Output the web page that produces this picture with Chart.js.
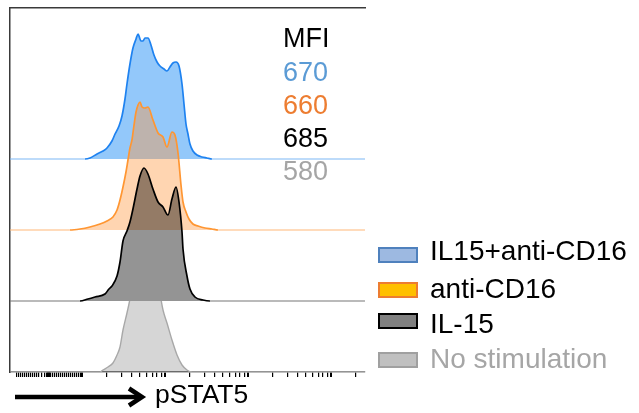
<!DOCTYPE html>
<html>
<head>
<meta charset="utf-8">
<script src="https://cdn.jsdelivr.net/npm/chart.js@4.4.1/dist/chart.umd.min.js"></script>
<style>
html,body{margin:0;padding:0;background:#fff;}
#wrap{position:relative;width:639px;height:413px;overflow:hidden;font-family:"Liberation Sans",Arial,Helvetica,sans-serif;}
#c{position:absolute;left:0;top:0;}
.t{position:absolute;white-space:nowrap;line-height:1;}
.box{position:absolute;box-sizing:border-box;border:2px solid;}
</style>
</head>
<body>
<div id="wrap"><canvas id="c" width="639" height="413"></canvas></div>
<script>
// ---------------- data ----------------
const seriesNames = ['IL15+anti-CD16', 'anti-CD16', 'IL-15', 'No stimulation'];
const mfiHeader = 'MFI';
const mfiValues = [670, 660, 685, 580];
const axisTitle = 'pSTAT5';

// histograms: [log10 pSTAT5 intensity, events]
const histIL15AntiCD16 = [
  [2.036,0],[2.096,1],[2.181,5],[2.253,8],[2.301,11],[2.361,18],[2.398,25],[2.446,33],[2.482,43],
  [2.518,60],[2.542,75],[2.578,95],[2.614,111],[2.651,120],[2.675,125],[2.711,118],[2.735,118],
  [2.759,121],[2.795,121],[2.831,114],[2.867,104],[2.904,97],[2.940,93],[2.988,90],[3.024,88],
  [3.060,92],[3.096,96],[3.133,97],[3.169,93],[3.205,75],[3.229,55],[3.253,35],[3.277,25],
  [3.301,15],[3.337,8],[3.386,4],[3.446,2],[3.506,1],[3.566,0]
];
const histAntiCD16 = [
  [1.855,0],[1.976,1],[2.096,3],[2.217,6],[2.301,9],[2.373,13],[2.422,20],[2.458,30],[2.494,43],
  [2.530,58],[2.554,70],[2.578,82],[2.602,90],[2.627,105],[2.651,118],[2.675,125],[2.699,128],
  [2.723,123],[2.759,122],[2.795,123],[2.855,110],[2.916,97],[2.976,93],[3.024,83],[3.084,98],
  [3.120,95],[3.157,77],[3.193,45],[3.217,28],[3.253,18],[3.289,11],[3.337,6],[3.398,4],
  [3.482,2],[3.566,1],[3.639,0]
];
const histIL15 = [
  [1.976,0],[2.072,2],[2.157,4],[2.277,7],[2.325,12],[2.361,15],[2.422,25],[2.458,39],[2.494,60],
  [2.542,70],[2.578,79],[2.614,92],[2.663,112],[2.699,125],[2.747,133],[2.795,127],[2.855,112],
  [2.916,99],[2.976,94],[3.036,86],[3.084,102],[3.133,114],[3.169,99],[3.205,69],[3.217,52],
  [3.265,25],[3.301,12],[3.361,4],[3.458,1],[3.542,0]
];
const histNoStim = [
  [2.217,0],[2.253,2],[2.313,5],[2.373,9],[2.422,17],[2.458,25],[2.494,42],[2.542,59],[2.566,68],
  [2.614,88],[2.663,104],[2.711,115],[2.759,120],[2.807,118],[2.855,108],[2.904,92],[2.940,78],
  [2.976,62],[3.024,49],[3.084,32],[3.145,17],[3.205,7],[3.265,2],[3.325,0]
];

// axis tick positions (log10 units); region below 2 is the biexponential linear zone
const majorTicks = [2, 3, 4, 5];
const linearZoneTicks = [1.217,1.241,1.265,1.289,1.313,1.337,1.361,1.386,1.410,1.434,1.458,1.482,
  1.518,1.554,1.578,1.584,1.590,1.596,1.602,1.608,1.614,1.627,1.651,1.675,1.699,1.723,1.747,1.771,
  1.795,1.819,1.843,1.867,1.892,1.916,1.940,1.964,1.988];

// ---------------- styling ----------------
const XMIN = 1.1325, XMAX = 5.41;
const LANE = 71;      // stagger offset per histogram
const YMAX = 364;
const lineColors = ['#1E82F0', '#FF9632', '#000000', '#A8A8A8'];
const baseColors = ['#7DB7F5', '#FFB878', '#777777', '#A8A8A8'];
const fillColors = ['rgba(40,145,245,0.5)', 'rgba(255,150,60,0.4)', 'rgba(0,0,0,0.42)', 'rgba(0,0,0,0.16)'];
const lineWidths = [1.7, 1.7, 1.7, 1.4];
const mfiColors = ['#5B9BD5', '#ED7D31', '#000000', '#A5A5A5'];
const legendFill = ['#9DB9E1', '#FFC000', '#808080', '#C0C0C0'];
const legendBorder = ['#4F81BD', '#ED7D31', '#000000', '#A0A0A0'];
const legendText = ['#000', '#000', '#000', '#A6A6A6'];

const hists = [histIL15AntiCD16, histAntiCD16, histIL15, histNoStim];
const lanes = [3, 2, 1, 0];

const minorTicks = [];
for (let n = 2; n <= 5; n++) for (let k = 2; k <= 9; k++) {
  const v = n + Math.log10(k);
  if (v < XMAX) minorTicks.push(v);
}
const allTicks = [...linearZoneTicks, ...majorTicks, ...minorTicks].sort((a, b) => a - b);

// clip plugin (keeps the bottom histogram inside its own lane)
const laneClip = {
  id: 'laneClip',
  beforeDatasetDraw(chart, args) {
    const ds = chart.data.datasets[args.index];
    if (ds.clipTop == null) return;
    const a = chart.chartArea;
    const y = chart.scales.y.getPixelForValue(ds.clipTop);
    chart.ctx.save();
    chart.ctx.beginPath();
    chart.ctx.rect(a.left, y, a.right - a.left, a.bottom - y + 4);
    chart.ctx.clip();
  },
  afterDatasetDraw(chart, args) {
    const ds = chart.data.datasets[args.index];
    if (ds.clipTop == null) return;
    chart.ctx.restore();
  }
};
Chart.register(laneClip);
const fillerPlugin = Chart.registry.getPlugin('filler');
if (fillerPlugin) { Chart.unregister(fillerPlugin); Chart.register(fillerPlugin); }

const datasets = hists.map((h, i) => {
  const off = lanes[i] * LANE;
  const pts = [[XMIN, 0], ...h, [XMAX, 0]].map(p => ({ x: p[0], y: p[1] + off }));
  return {
    label: seriesNames[i],
    data: pts,
    borderColor: lineColors[i],
    backgroundColor: fillColors[i],
    borderWidth: lineWidths[i],
    segment: {
      borderColor: c => (c.p0.parsed.y === off && c.p1.parsed.y === off) ? baseColors[i] : lineColors[i],
      borderWidth: c => (c.p0.parsed.y === off && c.p1.parsed.y === off) ? 1.2 : lineWidths[i]
    },
    fill: { value: off },
    pointRadius: 0,
    cubicInterpolationMode: 'monotone',
    order: lanes[i],
    clipTop: i === 3 ? LANE : undefined
  };
});

new Chart(document.getElementById('c'), {
  type: 'line',
  data: { datasets },
  options: {
    responsive: false,
    animation: false,
    devicePixelRatio: 1,
    layout: { padding: { left: 10, top: 8, right: 274, bottom: 36 } },
    plugins: { legend: { display: false }, tooltip: { enabled: false } },
    scales: {
      x: {
        type: 'linear', position: 'bottom', min: XMIN, max: XMAX,
        afterBuildTicks: s => { s.ticks = allTicks.map(v => ({ value: v, major: majorTicks.includes(v) })); },
        ticks: { display: false },
        grid: {
          drawOnChartArea: false, drawTicks: true, tickLength: 5,
          color: '#000', tickColor: '#000',
          lineWidth: c => (c.tick && c.tick.major ? 2 : 1.2)
        },
        border: { display: true, color: '#808080', width: 1.5 }
      },
      x2: {
        type: 'linear', position: 'top', min: XMIN, max: XMAX,
        ticks: { display: false },
        grid: { display: false, drawTicks: false },
        border: { display: true, color: '#3a3a3a', width: 1.5 }
      },
      y: {
        type: 'linear', min: 0, max: YMAX,
        ticks: { display: false },
        grid: { display: false, drawTicks: false },
        border: { display: true, color: '#3a3a3a', width: 1.5 }
      }
    }
  }
});

// ---------------- text overlays ----------------
const wrap = document.getElementById('wrap');
function addText(txt, left, baseline, size, color) {
  const d = document.createElement('div');
  d.className = 't';
  d.textContent = txt;
  d.style.left = left + 'px';
  d.style.top = (baseline - 0.8465 * size) + 'px';
  d.style.fontSize = size + 'px';
  d.style.color = color;
  wrap.appendChild(d);
}
const MFI_SIZE = 27;
addText(mfiHeader, 283, 48, MFI_SIZE, '#000');
const mfiBaselines = [82, 114.5, 148, 181];
mfiValues.forEach((v, i) => addText(String(v), 283, mfiBaselines[i], MFI_SIZE, mfiColors[i]));

const LEG_SIZE = 28;
const legBoxTop = [247, 282, 313, 352];
const legBaseline = [261, 299, 334, 369];
seriesNames.forEach((n, i) => {
  const b = document.createElement('div');
  b.className = 'box';
  b.style.left = '378px';
  b.style.top = legBoxTop[i] + 'px';
  b.style.width = '40px';
  b.style.height = '16px';
  b.style.background = legendFill[i];
  b.style.borderColor = legendBorder[i];
  wrap.appendChild(b);
  addText(n, 430, legBaseline[i], LEG_SIZE, legendText[i]);
});

addText(axisTitle, 155, 403, 26.5, '#000');
const svgNS = 'http://www.w3.org/2000/svg';
const svg = document.createElementNS(svgNS, 'svg');
svg.setAttribute('width', '639'); svg.setAttribute('height', '413');
svg.style.position = 'absolute'; svg.style.left = '0'; svg.style.top = '0';
const shaft = document.createElementNS(svgNS, 'line');
shaft.setAttribute('x1', '15'); shaft.setAttribute('y1', '397');
shaft.setAttribute('x2', '139'); shaft.setAttribute('y2', '397');
shaft.setAttribute('stroke', '#000'); shaft.setAttribute('stroke-width', '4.5');
svg.appendChild(shaft);
const head = document.createElementNS(svgNS, 'polyline');
head.setAttribute('points', '129,388.5 142,397 129,405.5');
head.setAttribute('fill', 'none'); head.setAttribute('stroke', '#000');
head.setAttribute('stroke-width', '4.5'); head.setAttribute('stroke-linejoin', 'miter');
svg.appendChild(head);
wrap.appendChild(svg);
</script>
</body>
</html>
